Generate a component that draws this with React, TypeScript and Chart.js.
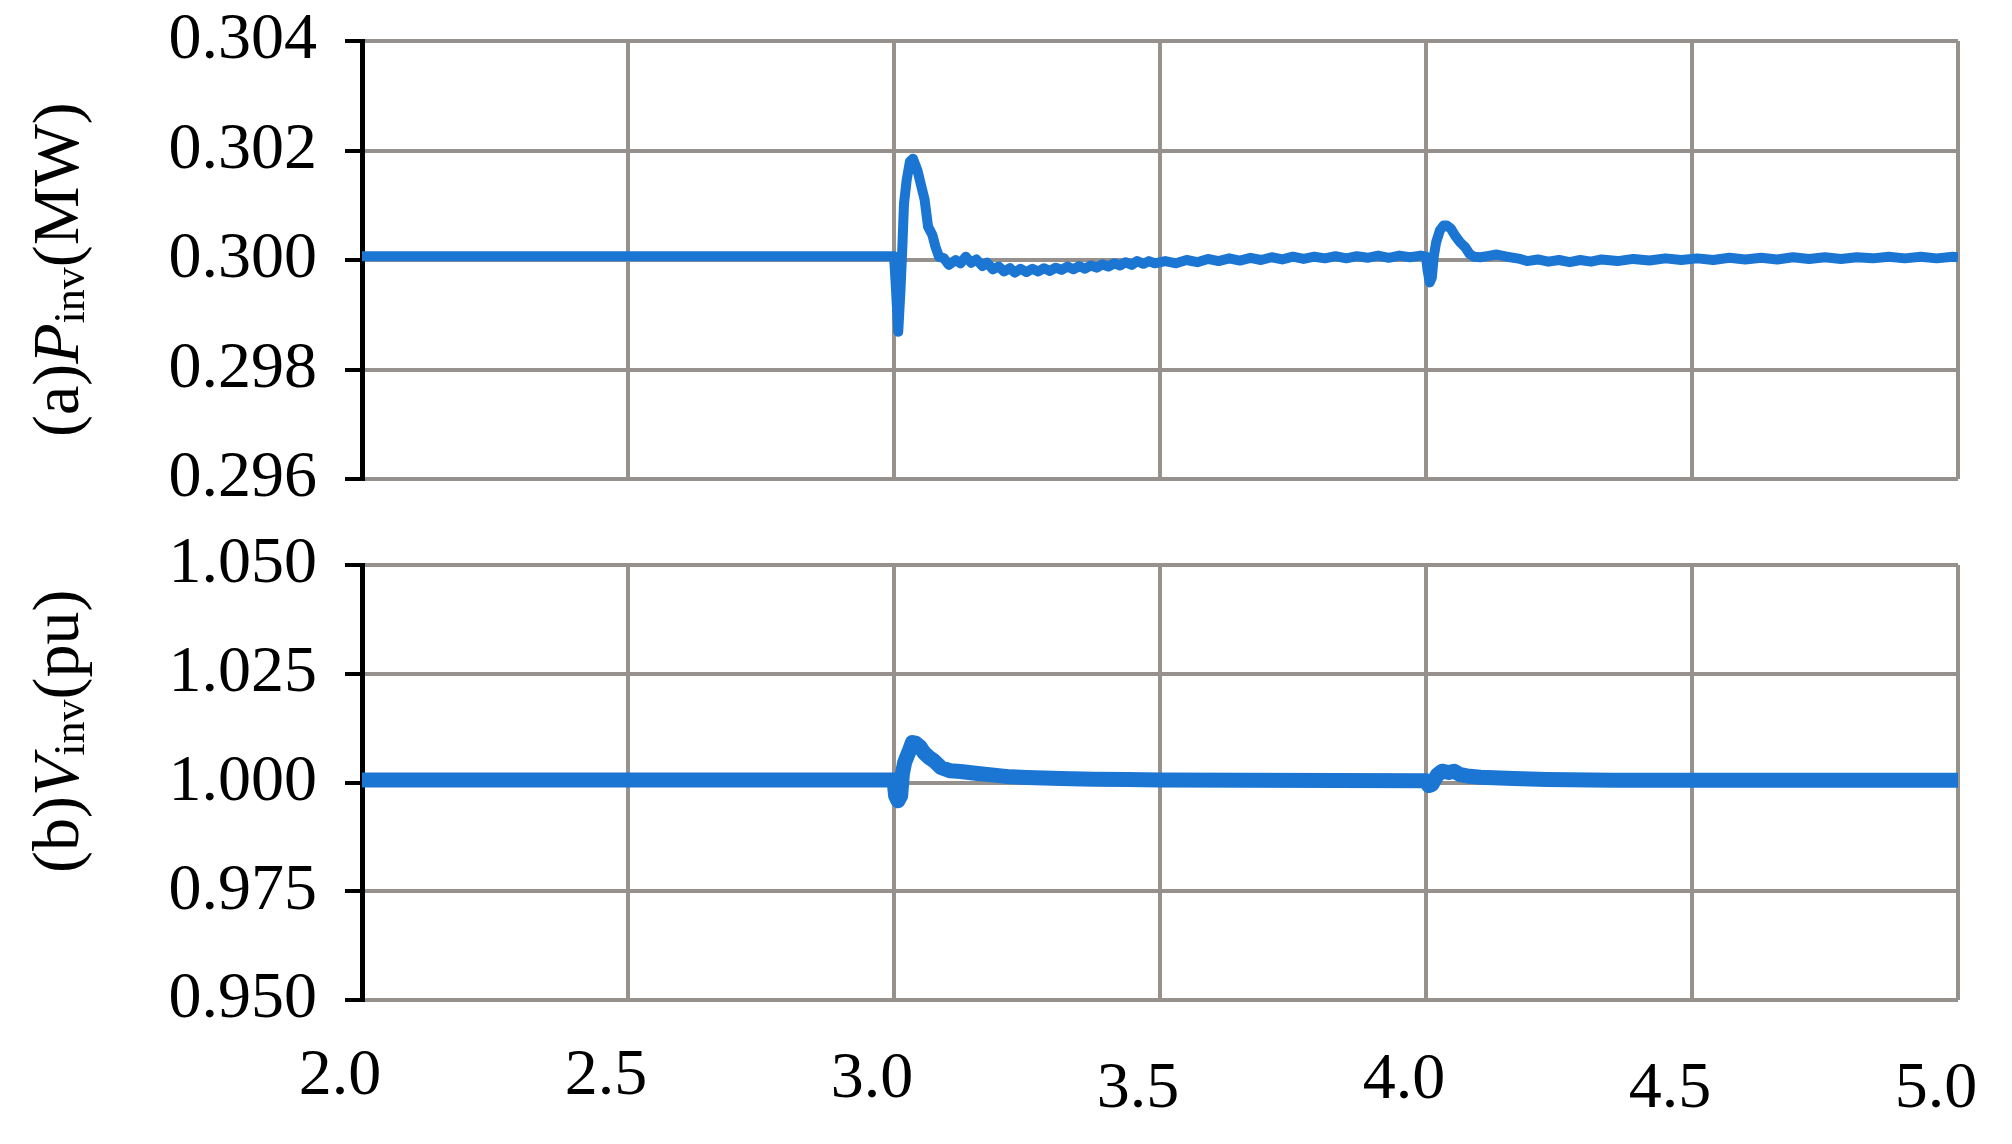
import React, { useEffect, useRef } from 'react';
import { Chart, registerables } from 'chart.js';

Chart.register(...registerables);

// ---------- data ----------
const X_TICKS = [2.0, 2.5, 3.0, 3.5, 4.0, 4.5, 5.0];
const P_TICKS = [0.296, 0.298, 0.3, 0.302, 0.304];
const V_TICKS = [0.95, 0.975, 1.0, 1.025, 1.05];

// (a) inverter active power, MW
const P_TIME = [
  2.0, 3.0, 3.003, 3.008, 3.0125, 3.0157, 3.0188, 3.0238, 3.03, 3.0357,
  3.044, 3.05, 3.0576, 3.064, 3.072, 3.078, 3.0846, 3.094, 3.103, 3.116,
  3.125, 3.135, 3.145, 3.155, 3.166, 3.175, 3.186, 3.197, 3.207, 3.218,
  3.227, 3.238, 3.249, 3.26, 3.271, 3.282, 3.293, 3.304, 3.315, 3.326,
  3.337, 3.348, 3.359, 3.37, 3.381, 3.392, 3.403, 3.414, 3.425, 3.435,
  3.447, 3.457, 3.469, 3.479, 3.49, 3.51, 3.53, 3.55, 3.57, 3.59,
  3.61, 3.63, 3.65, 3.67, 3.69, 3.71, 3.73, 3.75, 3.77, 3.79,
  3.81, 3.83, 3.85, 3.87, 3.89, 3.91, 3.93, 3.95, 3.97, 3.99,
  4.0, 4.003, 4.007, 4.011, 4.0144, 4.019, 4.026, 4.033, 4.039, 4.047,
  4.055, 4.0645, 4.074, 4.082, 4.0896, 4.102, 4.115, 4.133, 4.152, 4.177,
  4.19, 4.21, 4.23, 4.25, 4.27, 4.29, 4.31, 4.33, 4.36, 4.39,
  4.42, 4.45, 4.48, 4.51, 4.54, 4.57, 4.6, 4.63, 4.66, 4.69,
  4.72, 4.75, 4.78, 4.81, 4.84, 4.87, 4.9, 4.93, 4.96, 4.99, 5.0,
];
const P_VALUE = [
  0.30007, 0.30007, 0.2996, 0.29869, 0.29951, 0.30024, 0.30103, 0.30146, 0.3018, 0.30185,
  0.30164, 0.3014, 0.3011, 0.30061, 0.30046, 0.30024, 0.30006, 0.30003, 0.29991, 0.3,
  0.29994, 0.30006, 0.29995, 0.30001, 0.29989, 0.29995, 0.29983, 0.29988, 0.29979, 0.29985,
  0.29977, 0.29984, 0.29978, 0.29984, 0.29979, 0.29985, 0.2998, 0.29986, 0.29982, 0.29988,
  0.29983, 0.29989, 0.29984, 0.2999, 0.29986, 0.29992, 0.29988, 0.29994, 0.2999, 0.29996,
  0.29991, 0.29998, 0.29993, 0.29998, 0.29994, 0.29998, 0.29994, 0.3, 0.29996, 0.30002,
  0.29998, 0.30003, 0.29999, 0.30004, 0.3, 0.30005, 0.30001, 0.30006, 0.30002, 0.30006,
  0.30003, 0.30007, 0.30003, 0.30007, 0.30004, 0.30008, 0.30004, 0.30008, 0.30005, 0.30008,
  0.30006, 0.29981, 0.29959, 0.29968, 0.30005, 0.30032, 0.30054, 0.30063, 0.30063, 0.30057,
  0.30044, 0.30032, 0.30023, 0.30011, 0.30006, 0.30005, 0.30007, 0.3001, 0.30006, 0.30002,
  0.29998, 0.30001, 0.29997, 0.3, 0.29996, 0.3, 0.29997, 0.30001, 0.29998, 0.30002,
  0.29999, 0.30003, 0.3, 0.30003, 0.3, 0.30004, 0.30001, 0.30004, 0.30001, 0.30005,
  0.30002, 0.30005, 0.30002, 0.30005, 0.30003, 0.30006, 0.30003, 0.30006, 0.30003, 0.30006, 0.30005,
];

// (b) inverter voltage, pu
const V_TIME = [
  2.0, 3.0, 3.003, 3.0075, 3.0125, 3.0157, 3.02, 3.025, 3.03, 3.0345,
  3.041, 3.049, 3.056, 3.066, 3.075, 3.088, 3.106, 3.125, 3.157, 3.188,
  3.219, 3.25, 3.313, 3.376, 3.439, 3.5, 4.0, 4.005, 4.011, 4.021,
  4.03, 4.0426, 4.053, 4.0645, 4.077, 4.102, 4.165, 4.227, 4.35, 5.0,
];
const V_VALUE = [
  1.0006, 1.0006, 0.99694, 0.99579, 0.99694, 1.00192, 1.0046, 1.00613, 1.00766, 1.0092,
  1.009, 1.0082, 1.0069, 1.00575, 1.005, 1.00345, 1.00268, 1.00253, 1.00207, 1.00169,
  1.0013, 1.00115, 1.00092, 1.00077, 1.0007, 1.0006, 1.0004, 0.9993, 0.99954, 1.0017,
  1.0026, 1.0023, 1.0026, 1.0018, 1.0015, 1.0012, 1.0009, 1.0007, 1.0005, 1.0005,
];

// ---------- styles ----------
const FONT = 'Liberation Serif';
const GRID = '#97918D';
const LINE = '#1B75D3';
const X_LABEL_DROP = [0, 0, 3, 13, 4, 13, 13];

type Seg = { text: string; italic?: boolean; sub?: boolean };
const TITLE_A: Seg[] = [{ text: '(a)' }, { text: 'P', italic: true }, { text: 'inv', sub: true }, { text: '(MW)' }];
const TITLE_B: Seg[] = [{ text: '(b)' }, { text: 'V', italic: true }, { text: 'inv', sub: true }, { text: '(pu)' }];

function richTitle(segs: Seg[], x: number, y: number) {
  return {
    id: 'richTitle',
    afterDraw(chart: any) {
      const ctx = chart.ctx as CanvasRenderingContext2D;
      ctx.save();
      ctx.translate(x, y);
      ctx.rotate(-Math.PI / 2);
      ctx.fillStyle = '#000';
      ctx.textBaseline = 'alphabetic';
      ctx.textAlign = 'left';
      let cx = 0;
      for (const s of segs) {
        ctx.font = `${s.italic ? 'italic ' : ''}${s.sub ? 44 : 66}px "${FONT}"`;
        ctx.fillText(s.text, cx, s.sub ? 6 : 0);
        cx += ctx.measureText(s.text).width;
      }
      ctx.restore();
    },
  };
}

function yScale(ticks: number[]) {
  return {
    type: 'linear' as const,
    min: ticks[0],
    max: ticks[ticks.length - 1],
    afterBuildTicks: (s: any) => {
      s.ticks = ticks.map((v) => ({ value: v }));
    },
    afterFit: (s: any) => {
      s.width = 362;
      s.paddingTop = 0;
      s.paddingBottom = 0;
      s.paddingLeft = 0;
      s.paddingRight = 0;
    },
    ticks: {
      callback: (v: any) => Number(v).toFixed(3),
      font: { family: FONT, size: 66 },
      color: '#000',
      padding: 28,
      autoSkip: false,
    },
    grid: { color: GRID, lineWidth: 4, tickColor: '#000', tickLength: 17, tickWidth: 4, drawTicks: true },
    border: { display: true, color: '#000', width: 5 },
  };
}

function xScale(showLabels: boolean) {
  return {
    type: 'linear' as const,
    min: X_TICKS[0],
    max: X_TICKS[X_TICKS.length - 1],
    afterBuildTicks: (s: any) => {
      s.ticks = X_TICKS.map((v) => ({ value: v }));
    },
    afterFit: (s: any) => {
      s.height = showLabels ? 144 : 0;
      s.paddingTop = 0;
      s.paddingBottom = 0;
      s.paddingLeft = 0;
      s.paddingRight = 0;
    },
    ticks: {
      display: showLabels,
      callback: (v: any) => Number(v).toFixed(1),
      autoSkip: false,
      maxRotation: 0,
      minRotation: 0,
      padding: 37,
      labelOffset: -22,
      color: '#000',
      font: (ctx: any) => {
        const d = X_LABEL_DROP[ctx.index] || 0;
        return { family: FONT, size: 66, lineHeight: (79 + 2 * d) / 66 };
      },
    },
    grid: { color: GRID, lineWidth: 4, drawTicks: false },
    border: { display: false },
  };
}

function build(canvas: HTMLCanvasElement, time: number[], vals: number[], yTicks: number[], showX: boolean, pad: any, title: any, width: number) {
  return new Chart(canvas, {
    type: 'line',
    data: {
      datasets: [
        {
          data: time.map((t, i) => ({ x: t, y: vals[i] })),
          borderColor: LINE,
          borderWidth: width,
          pointRadius: 0,
          tension: 0,
          borderJoinStyle: 'round',
          fill: false,
        },
      ],
    },
    options: {
      responsive: false,
      animation: false,
      layout: { padding: pad },
      plugins: { legend: { display: false }, tooltip: { enabled: false }, title: { display: false } },
      scales: { x: xScale(showX) as any, y: yScale(yTicks) as any },
    },
    plugins: [title],
  });
}

export default function App() {
  const c1 = useRef<HTMLCanvasElement>(null);
  const c2 = useRef<HTMLCanvasElement>(null);
  useEffect(() => {
    Chart.defaults.font.family = FONT;
    const a = build(c1.current!, P_TIME, P_VALUE, P_TICKS, false, { top: 41, right: 54, bottom: 41, left: 0 }, richTitle(TITLE_A, 78, 437), 10);
    const b = build(c2.current!, V_TIME, V_VALUE, V_TICKS, true, { top: 45, right: 54, bottom: 0, left: 0 }, richTitle(TITLE_B, 78, 353), 15);
    return () => {
      a.destroy();
      b.destroy();
    };
  }, []);
  return (
    <div style={{ position: 'absolute', left: 0, top: 0, width: 2012, height: 1144, background: '#fff' }}>
      <canvas ref={c1} width={2012} height={520} style={{ position: 'absolute', left: 0, top: 0, width: 2012, height: 520 }} />
      <canvas ref={c2} width={2012} height={624} style={{ position: 'absolute', left: 0, top: 520, width: 2012, height: 624 }} />
    </div>
  );
}
